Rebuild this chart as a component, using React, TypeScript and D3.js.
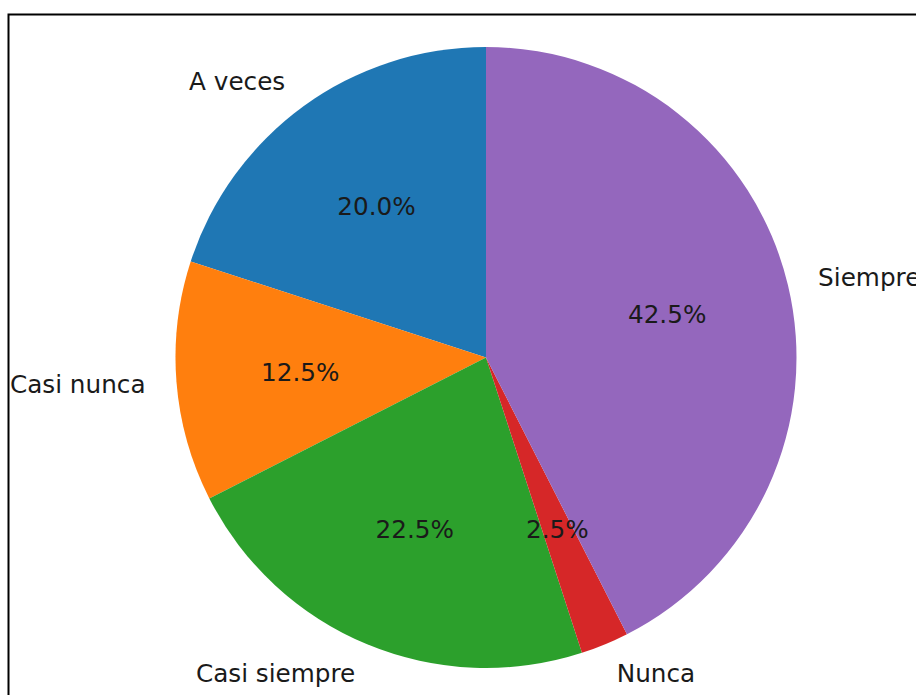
import React, { useEffect } from 'react';
import * as d3 from 'd3';

const categories = ['A veces', 'Casi nunca', 'Casi siempre', 'Nunca', 'Siempre'];
const counts = [8, 5, 9, 1, 17];
const colors = ['#1f77b4', '#ff7f0e', '#2ca02c', '#d62728', '#9467bd'];

const W = 916;
const H = 695;
const cx = 486;
const cy = 357.5;
const R = 310.5;

export default function App() {
    useEffect(() => {
        document.body.style.margin = '0';
    }, []);

    const total = d3.sum(counts);
    // matplotlib style: start at 12 o'clock, go counterclockwise
    const pie = d3.pie<number>().sort(null).startAngle(0).endAngle(-2 * Math.PI);
    const arcs = pie(counts);
    const arcGen = d3.arc<d3.PieArcDatum<number>>().innerRadius(0).outerRadius(R);

    const at = (a: number, r: number) => [Math.sin(a) * r, -Math.cos(a) * r];

    return (
        <svg width={W} height={H} style={{ display: 'block', background: '#fff' }}>
            <rect x={8.5} y={14.5} width={W + 20} height={H + 20} fill="none" stroke="#000" strokeWidth={2} />
            <g transform={`translate(${cx},${cy})`} fontFamily="DejaVu Sans, sans-serif" fontSize={24.7} fill="#1a1a1a">
                {arcs.map((a, i) => (
                    <path key={i} d={arcGen(a) || ''} fill={colors[i]} />
                ))}
                {arcs.map((a, i) => {
                    const mid = (a.startAngle + a.endAngle) / 2;
                    const [lx, ly] = at(mid, R * 1.1);
                    const [px, py] = at(mid, R * 0.6);
                    return (
                        <g key={'t' + i}>
                            <text x={lx} y={ly} dominantBaseline="central" textAnchor={lx > 0 ? 'start' : 'end'}>
                                {categories[i]}
                            </text>
                            <text x={px} y={py} dominantBaseline="central" textAnchor="middle">
                                {((counts[i] / total) * 100).toFixed(1) + '%'}
                            </text>
                        </g>
                    );
                })}
            </g>
        </svg>
    );
}
